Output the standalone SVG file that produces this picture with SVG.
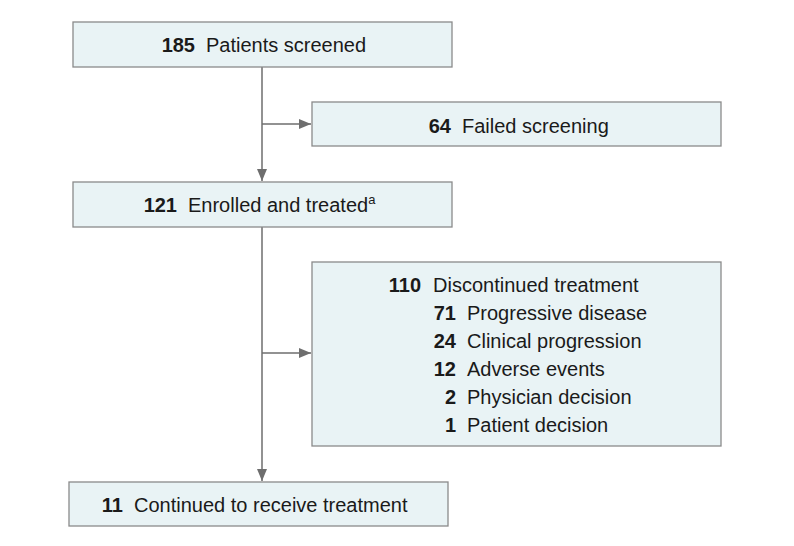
<svg xmlns="http://www.w3.org/2000/svg" width="794" height="546" viewBox="0 0 794 546">
<defs>
<style>
.box{fill:#e9f3f5;stroke:#8a8a8a;stroke-width:1.3}
.t{font-family:"Liberation Sans",Arial,sans-serif;font-size:20px;fill:#1a1a1a}
.b{font-weight:bold}
.r{text-anchor:end}
.ln{stroke:#6e6e6e;stroke-width:1.5;fill:none}
</style>
<marker id="ah" viewBox="0 0 12 10" refX="12" refY="5" markerWidth="12" markerHeight="10" markerUnits="userSpaceOnUse" orient="auto">
<path d="M0,0 L12,5 L0,10 Z" fill="#6e6e6e"/>
</marker>
</defs>
<rect width="794" height="546" fill="#fff"/>
<g id="connectors">
<line class="ln" x1="262" y1="67" x2="262" y2="181" marker-end="url(#ah)"/>
<line class="ln" x1="262" y1="124" x2="311" y2="124" marker-end="url(#ah)"/>
<line class="ln" x1="262" y1="227" x2="262" y2="481" marker-end="url(#ah)"/>
<line class="ln" x1="262" y1="353" x2="311" y2="353" marker-end="url(#ah)"/>
</g>
<g id="screened">
<rect class="box" x="73" y="22" width="379" height="45"/>
<text class="t b r" x="195" y="52">185</text>
<text class="t" x="206" y="52">Patients screened</text>
</g>
<g id="failed">
<rect class="box" x="312" y="102" width="409" height="44"/>
<text class="t b r" x="451" y="133">64</text>
<text class="t" x="462" y="133">Failed screening</text>
</g>
<g id="enrolled">
<rect class="box" x="73" y="182" width="379" height="45"/>
<text class="t b r" x="177" y="212">121</text>
<text class="t" x="188" y="212">Enrolled and treated<tspan font-size="13" dy="-8">a</tspan></text>
</g>
<g id="discontinued">
<rect class="box" x="312" y="262" width="409" height="184"/>
<text class="t b r" x="421" y="292">110</text>
<text class="t" x="433" y="292">Discontinued treatment</text>
<text class="t b r" x="456" y="320">71</text>
<text class="t" x="467" y="320">Progressive disease</text>
<text class="t b r" x="456" y="348">24</text>
<text class="t" x="467" y="348">Clinical progression</text>
<text class="t b r" x="456" y="376">12</text>
<text class="t" x="467" y="376">Adverse events</text>
<text class="t b r" x="456" y="404">2</text>
<text class="t" x="467" y="404">Physician decision</text>
<text class="t b r" x="456" y="432">1</text>
<text class="t" x="467" y="432">Patient decision</text>
</g>
<g id="continued">
<rect class="box" x="69" y="482" width="379" height="44"/>
<text class="t b r" x="123" y="512">11</text>
<text class="t" x="134" y="512">Continued to receive treatment</text>
</g>
</svg>
